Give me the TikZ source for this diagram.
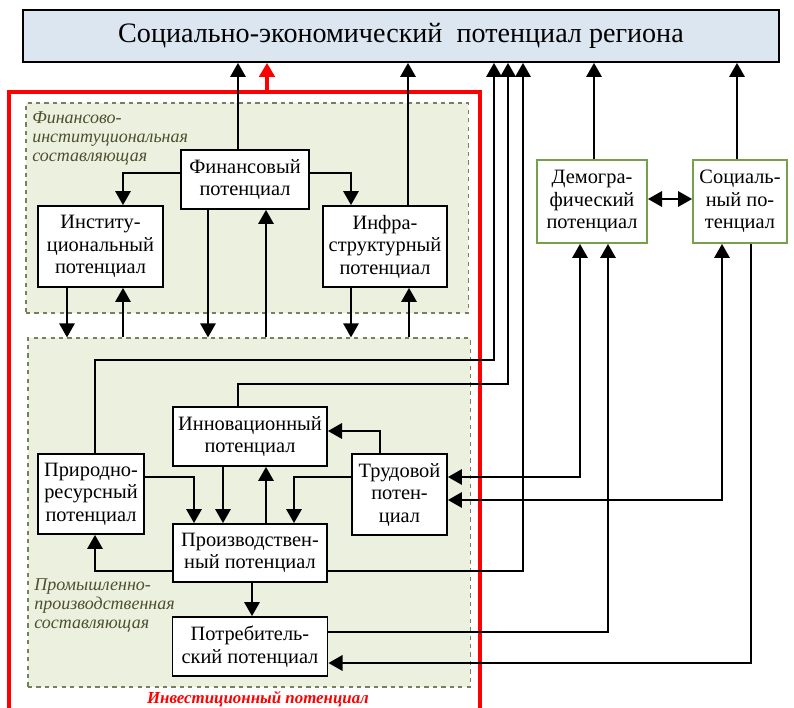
\documentclass[tikz,border=0pt]{standalone}
\usepackage{fontspec}
\setmainfont{Liberation Serif}
\usetikzlibrary{arrows.meta, positioning}

\definecolor{topfill}{HTML}{DCE6F1}
\definecolor{zonefill}{HTML}{EBF1DE}
\definecolor{zoneline}{HTML}{76805C}
\definecolor{demgreen}{HTML}{77A04A}
\definecolor{labcol}{HTML}{4F4F2F}

\tikzset{
	pot/.style={draw, fill=white, line width=1.3pt, align=center, inner sep=1pt, font=\fontsize{14.5}{16}\selectfont},
	pototh/.style={pot, draw=demgreen},
	zone/.style={draw=zoneline, dashed, fill=zonefill, line width=0.8pt, inner sep=0pt},
	lab/.style={align=left, inner sep=0pt, text=labcol, font=\fontsize{12.8}{13.6}\selectfont\itshape},
	arr/.style={line width=1.3pt, -{Triangle[length=10pt,width=11pt]}},
	arrb/.style={line width=1.3pt, {Triangle[length=10pt,width=11pt]}-{Triangle[length=10pt,width=11pt]}}
}

\begin{document}
\begin{tikzpicture}[x=0.025cm, y=-0.025cm]
	\useasboundingbox (0,0) rectangle (794,708);
	
	\coordinate (R1) at (9,720);
	\coordinate (R2) at (9,92);
	\coordinate (R3) at (480,92);
	\coordinate (R4) at (480,720);
	\coordinate (redtop) at (267,92);
	
	\node[draw, fill=topfill, line width=1.3pt, minimum width=18.9cm, minimum height=1.3cm, font=\fontsize{20}{24}\selectfont] (top) at (401,36) {Социально-экономический\ \ потенциал региона};
	
	\node[zone, minimum width=11.05cm, minimum height=5.25cm] (fiz) at (247,208) {};
	\node[zone, minimum width=11.05cm, minimum height=8.725cm] (ppz) at (249,512.5) {};
	\draw[red, line width=2.6pt] (R1) -- (R2) -- (R3) -- (R4);
	
	\node[lab, anchor=north west] (fizlab) at (32,111) {Финансово-\\институциональная\\составляющая};
	\node[lab, anchor=north west] (ppzlab) at (34,578) {Промышленно-\\производственная\\составляющая};
	\node[text=red, font=\fontsize{12}{14}\selectfont\bfseries\itshape] (invlab) at (258,699) {Инвестиционный потенциал};
	
	\node[pot, minimum width=3.2cm, minimum height=1.475cm] (fin) at (245,179.5) {Финансовый\\потенциал};
	\node[pot, minimum width=3.125cm, minimum height=2.025cm] (inst) at (100.5,246.5) {Институ-\\циональный\\потенциал};
	\node[pot, minimum width=3.1cm, minimum height=2.025cm] (infra) at (385,246.5) {Инфра-\\структурный\\потенциал};
	\node[pototh, minimum width=2.75cm, minimum height=2.075cm] (demo) at (592,201.5) {Демогра-\\фический\\потенциал};
	\node[pototh, minimum width=2.35cm, minimum height=2.075cm] (soc) at (740,201.5) {Социаль-\\ный по-\\тенциал};
	\node[pot, minimum width=3.85cm, minimum height=1.475cm] (innov) at (250,436.5) {Инновационный\\потенциал};
	\node[pot, minimum width=2.375cm, minimum height=2.025cm] (labor) at (399.5,494.5) {Трудовой\\потен-\\циал};
	\node[pot, minimum width=2.65cm, minimum height=2.0cm] (nat) at (91,494) {Природно-\\ресурсный\\потенциал};
	\node[pot, minimum width=3.85cm, minimum height=1.45cm] (prod) at (250,553) {Производствен-\\ный потенциал};
	\node[pot, minimum width=3.875cm, minimum height=1.475cm] (cons) at (250,646.5) {Потребитель-\\ский потенциал};
	
	\draw[arr] (fin.north -| 238,0) -- (top.south -| 238,0);
	\draw[arr, red, line width=2.4pt] (redtop) -- (top.south -| redtop);
	\draw[arr] (infra.north -| 408,0) -- (top.south -| 408,0);
	\draw[arr] (nat.north -| 95,0) |- (494,360) -- (top.south -| 494,0);
	\draw[arr] (innov.north -| 238,0) |- (508,384) -- (top.south -| 508,0);
	\draw[arr] (prod.east |- 0,571) -- (523,571) -- (top.south -| 523,0);
	\draw[arr] (demo.north -| 594,0) -- (top.south -| 594,0);
	\draw[arr] (soc.north -| 737,0) -- (top.south -| 737,0);
	\draw[arrb] (demo.east |- 0,199) -- (soc.west |- 0,199);
	
	\draw[arr] (fin.west |- 0,173) -| (inst.north -| 123,0);
	\draw[arr] (fin.east |- 0,173) -| (infra.north -| 351,0);
	\draw[arr] (inst.south -| 67,0) -- (ppz.north -| 67,0);
	\draw[arr] (ppz.north -| 123,0) -- (inst.south -| 123,0);
	\draw[arr] (fin.south -| 208,0) -- (ppz.north -| 208,0);
	\draw[arr] (ppz.north -| 266,0) -- (fin.south -| 266,0);
	\draw[arr] (infra.south -| 351,0) -- (ppz.north -| 351,0);
	\draw[arr] (ppz.north -| 409,0) -- (infra.south -| 409,0);
	
	\draw[arr] (labor.north -| 380,0) |- (innov.east |- 0,431);
	\draw[arr] (innov.south -| 223,0) -- (prod.north -| 223,0);
	\draw[arr] (prod.north -| 266,0) -- (innov.south -| 266,0);
	\draw[arr] (nat.east |- 0,477) -| (prod.north -| 194,0);
	\draw[arr] (labor.west |- 0,477) -| (prod.north -| 294,0);
	\draw[arr] (prod.west |- 0,571) -| (nat.south -| 95,0);
	\draw[arr] (prod.south -| 252,0) -- (cons.north -| 252,0);
	
	\draw[arrb] (labor.east |- 0,477) -| (demo.south -| 580,0);
	\draw[arrb] (labor.east |- 0,500) -| (soc.south -| 722,0);
	\draw[arr] (cons.east |- 0,632) -| (demo.south -| 608,0);
	\draw[arr] (soc.south -| 751,0) |- (cons.east |- 0,663);
\end{tikzpicture}
\end{document}
